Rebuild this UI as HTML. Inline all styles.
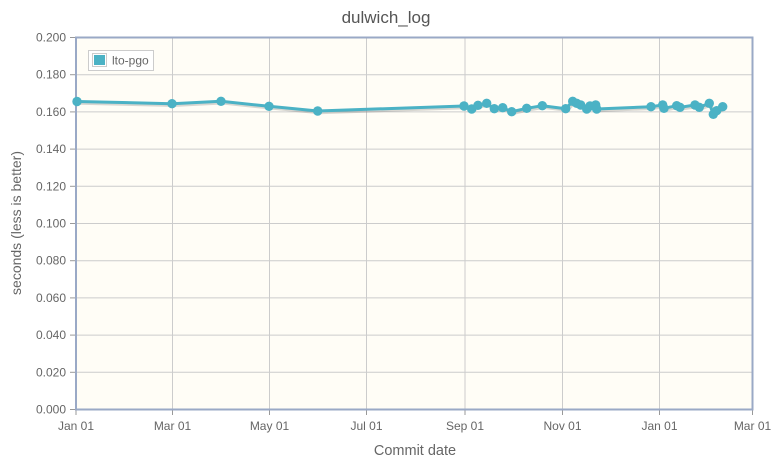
<!DOCTYPE html>
<html><head><meta charset="utf-8"><style>
html,body{margin:0;padding:0;background:#fff;}
svg{display:block;font-family:"Liberation Sans",sans-serif;}
</style></head><body>
<svg width="778" height="462" viewBox="0 0 778 462" xmlns="http://www.w3.org/2000/svg">
<rect width="778" height="462" fill="#fff"/>
<text x="386" y="23" text-anchor="middle" font-size="17" fill="#555">dulwich_log</text>
<rect x="76" y="37.5" width="676.5" height="372" fill="#fffdf6"/>
<g stroke="#cccccc" stroke-width="1">
<line x1="76" y1="74.7" x2="752.5" y2="74.7"/>
<line x1="76" y1="111.9" x2="752.5" y2="111.9"/>
<line x1="76" y1="149.1" x2="752.5" y2="149.1"/>
<line x1="76" y1="186.3" x2="752.5" y2="186.3"/>
<line x1="76" y1="223.5" x2="752.5" y2="223.5"/>
<line x1="76" y1="260.7" x2="752.5" y2="260.7"/>
<line x1="76" y1="297.9" x2="752.5" y2="297.9"/>
<line x1="76" y1="335.1" x2="752.5" y2="335.1"/>
<line x1="76" y1="372.3" x2="752.5" y2="372.3"/>
<line x1="172.5" y1="37.5" x2="172.5" y2="409.5"/>
<line x1="269.5" y1="37.5" x2="269.5" y2="409.5"/>
<line x1="366.5" y1="37.5" x2="366.5" y2="409.5"/>
<line x1="465" y1="37.5" x2="465" y2="409.5"/>
<line x1="562.5" y1="37.5" x2="562.5" y2="409.5"/>
<line x1="659.5" y1="37.5" x2="659.5" y2="409.5"/>
</g>
<g stroke="#999" stroke-width="1">
<line x1="70" y1="37.5" x2="76" y2="37.5"/><line x1="70" y1="74.7" x2="76" y2="74.7"/>
<line x1="70" y1="111.9" x2="76" y2="111.9"/><line x1="70" y1="149.1" x2="76" y2="149.1"/>
<line x1="70" y1="186.3" x2="76" y2="186.3"/><line x1="70" y1="223.5" x2="76" y2="223.5"/>
<line x1="70" y1="260.7" x2="76" y2="260.7"/><line x1="70" y1="297.9" x2="76" y2="297.9"/>
<line x1="70" y1="335.1" x2="76" y2="335.1"/><line x1="70" y1="372.3" x2="76" y2="372.3"/>
<line x1="70" y1="409.5" x2="76" y2="409.5"/>
<line x1="76" y1="409.5" x2="76" y2="415"/><line x1="172.5" y1="409.5" x2="172.5" y2="415"/>
<line x1="269.5" y1="409.5" x2="269.5" y2="415"/><line x1="366.5" y1="409.5" x2="366.5" y2="415"/>
<line x1="465" y1="409.5" x2="465" y2="415"/><line x1="562.5" y1="409.5" x2="562.5" y2="415"/>
<line x1="659.5" y1="409.5" x2="659.5" y2="415"/><line x1="752.5" y1="409.5" x2="752.5" y2="415"/>
</g>
<rect x="76" y="37.5" width="676.5" height="372" fill="none" stroke="#9aa9c6" stroke-width="2"/>
<g font-size="12" fill="#666" text-anchor="end">
<text x="66" y="41.5">0.200</text><text x="66" y="78.7">0.180</text>
<text x="66" y="115.9">0.160</text><text x="66" y="153.1">0.140</text>
<text x="66" y="190.3">0.120</text><text x="66" y="227.5">0.100</text>
<text x="66" y="264.7">0.080</text><text x="66" y="301.9">0.060</text>
<text x="66" y="339.1">0.040</text><text x="66" y="376.3">0.020</text>
<text x="66" y="413.5">0.000</text>
</g>
<g font-size="12" fill="#666" text-anchor="middle">
<text x="76" y="430">Jan 01</text><text x="172.5" y="430">Mar 01</text>
<text x="269.5" y="430">May 01</text><text x="366.5" y="430">Jul 01</text>
<text x="465" y="430">Sep 01</text><text x="562.5" y="430">Nov 01</text>
<text x="659.5" y="430">Jan 01</text><text x="752.5" y="430">Mar 01</text>
</g>
<text x="415" y="455" text-anchor="middle" font-size="14.5" fill="#666">Commit date</text>
<text transform="translate(21,223) rotate(-90)" text-anchor="middle" font-size="14" fill="#666">seconds (less is better)</text>
<g fill="none" stroke-linejoin="round" stroke-linecap="round">
<polyline transform="translate(1.5,1.5)" stroke="rgba(0,0,0,0.15)" stroke-width="3.5" points="77,101.5 172,103.7 221,101.3 269,106.3 317.7,111 464,106 471.7,109 478,105.3 486.7,103.3 494.3,108.7 502.7,107.7 511.7,111.7 526.7,108.3 542.3,105.7 565.7,108.7 572.7,101.3 576.7,103.3 580.7,105 586.7,109 590,106 595.7,105 596.7,109 651,106.7 662.7,105 664,108.3 676.7,105.7 680,107.3 695,105 699.3,107.3 709.3,103.3 713.3,114.3 716.7,110.7 722.7,106.7"/>
<polyline stroke="#4bb2c5" stroke-width="3" points="77,101.5 172,103.7 221,101.3 269,106.3 317.7,111 464,106 471.7,109 478,105.3 486.7,103.3 494.3,108.7 502.7,107.7 511.7,111.7 526.7,108.3 542.3,105.7 565.7,108.7 572.7,101.3 576.7,103.3 580.7,105 586.7,109 590,106 595.7,105 596.7,109 651,106.7 662.7,105 664,108.3 676.7,105.7 680,107.3 695,105 699.3,107.3 709.3,103.3 713.3,114.3 716.7,110.7 722.7,106.7"/>
</g>
<g fill="#4bb2c5">
<circle cx="77" cy="101.5" r="4.7"/><circle cx="172" cy="103.7" r="4.7"/><circle cx="221" cy="101.3" r="4.7"/>
<circle cx="269" cy="106.3" r="4.7"/><circle cx="317.7" cy="111" r="4.7"/><circle cx="464" cy="106" r="4.7"/>
<circle cx="471.7" cy="109" r="4.7"/><circle cx="478" cy="105.3" r="4.7"/><circle cx="486.7" cy="103.3" r="4.7"/>
<circle cx="494.3" cy="108.7" r="4.7"/><circle cx="502.7" cy="107.7" r="4.7"/><circle cx="511.7" cy="111.7" r="4.7"/>
<circle cx="526.7" cy="108.3" r="4.7"/><circle cx="542.3" cy="105.7" r="4.7"/><circle cx="565.7" cy="108.7" r="4.7"/>
<circle cx="572.7" cy="101.3" r="4.7"/><circle cx="576.7" cy="103.3" r="4.7"/><circle cx="580.7" cy="105" r="4.7"/>
<circle cx="586.7" cy="109" r="4.7"/><circle cx="590" cy="106" r="4.7"/><circle cx="595.7" cy="105" r="4.7"/>
<circle cx="596.7" cy="109" r="4.7"/><circle cx="651" cy="106.7" r="4.7"/><circle cx="662.7" cy="105" r="4.7"/>
<circle cx="664" cy="108.3" r="4.7"/><circle cx="676.7" cy="105.7" r="4.7"/><circle cx="680" cy="107.3" r="4.7"/>
<circle cx="695" cy="105" r="4.7"/><circle cx="699.3" cy="107.3" r="4.7"/><circle cx="709.3" cy="103.3" r="4.7"/>
<circle cx="713.3" cy="114.3" r="4.7"/><circle cx="716.7" cy="110.7" r="4.7"/><circle cx="722.7" cy="106.7" r="4.7"/>
</g>
<rect x="88.5" y="50.5" width="65" height="20" fill="#fff" stroke="#ccc" stroke-width="1"/>
<rect x="92.5" y="53.5" width="14" height="13" fill="none" stroke="#ccc" stroke-width="1"/>
<rect x="94" y="55" width="11" height="10" fill="#4bb2c5"/>
<text x="112" y="64.5" font-size="12" fill="#666">lto-pgo</text>
</svg>
</body></html>
